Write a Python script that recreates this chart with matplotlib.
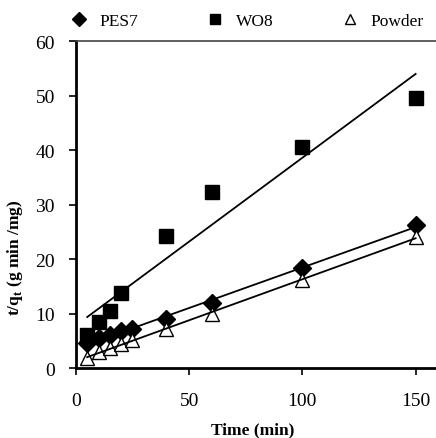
import numpy as np
import matplotlib.pyplot as plt

plt.rcParams['font.family'] = ['Liberation Serif', 'DejaVu Serif']
plt.rcParams['font.size'] = 14

# time (min)
t_pes = [5, 10, 15, 20, 25, 40, 60, 100, 150]
y_pes = [4.6, 5.5, 6.0, 6.8, 7.1, 9.1, 12.0, 18.3, 26.3]

t_wo = [5, 10, 15, 20, 40, 60, 100, 150]
y_wo = [6.1, 8.5, 10.5, 13.8, 24.3, 32.4, 40.6, 49.6]

t_pow = [5, 10, 15, 20, 25, 40, 60, 100, 150]
y_pow = [1.8, 2.9, 3.7, 4.5, 5.1, 7.2, 10.0, 16.2, 24.0]

fig = plt.figure(figsize=(4.36, 4.39), dpi=100)
ax = fig.add_axes([0.174, 0.159, 0.826, 0.745])

series = [(t_pes, y_pes, 'D', 'k', 'PES7', 9.5),
          (t_wo, y_wo, 's', 'k', 'WO8', 10.5),
          (t_pow, y_pow, '^', 'white', 'Powder', 10.5)]
for t, y, m, fc, lab, ms in series:
    ax.plot(t, y, linestyle='none', marker=m, markerfacecolor=fc,
            markeredgecolor='k', markersize=ms, label=lab, clip_on=False)
    k, b = np.polyfit(t, y, 1)
    xs = np.array([min(t), max(t)])
    ax.plot(xs, k * xs + b, color='k', lw=1.3)

ax.set_xlim(0, 159)
ax.set_ylim(0, 60)
ax.set_xticks([0, 50, 100, 150])
ax.set_yticks([0, 10, 20, 30, 40, 50, 60])
ax.spines['right'].set_visible(False)
ax.spines['left'].set_linewidth(2)
ax.spines['bottom'].set_linewidth(2)
ax.spines['top'].set_linewidth(1.2)
ax.spines['top'].set_color('#444444')
ax.tick_params(direction='out', length=5, width=1.2)
ax.tick_params(axis='y', pad=10)
ax.tick_params(axis='x', pad=12)

ax.set_xlabel('Time (min)', fontweight='bold', fontsize=12.5)
ax.xaxis.set_label_coords(0.49, -0.163)
ax.set_ylabel('t/q$_\\mathregular{t}$ (g min /mg)', fontweight='bold', fontsize=12.5)
ax.yaxis.set_label_coords(-0.142, 0.34)

leg = ax.legend(loc='lower center', bbox_to_anchor=(0.47, 1.0), ncol=3, frameon=False,
                handletextpad=0.5, handlelength=1.4, columnspacing=3.7,
                borderaxespad=0.3, fontsize=12.5, markerscale=0.7)

fig.savefig('out.png', dpi=100)
